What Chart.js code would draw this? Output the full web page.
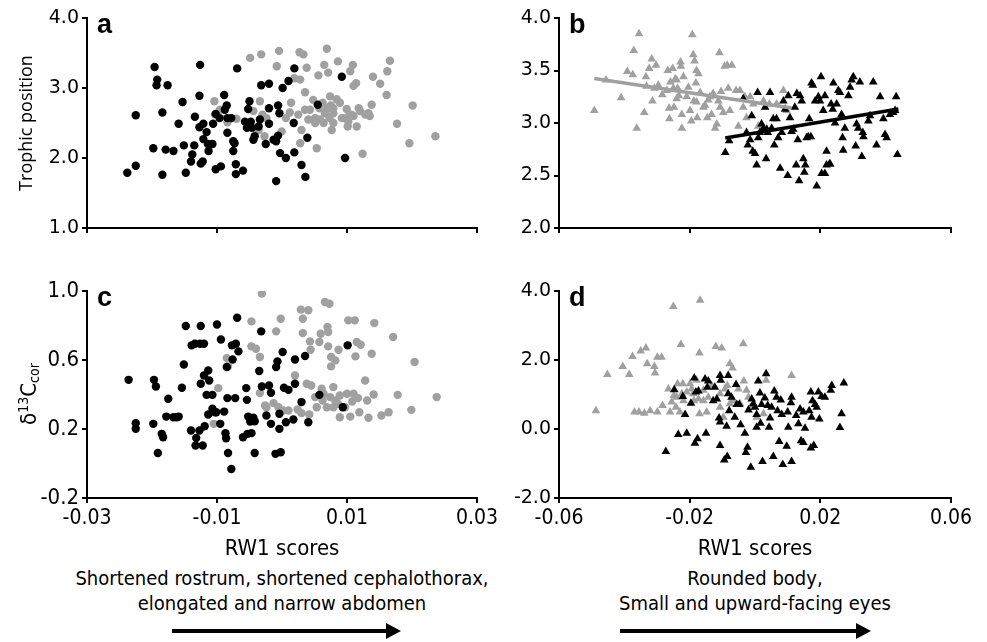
<!DOCTYPE html>
<html>
<head>
<meta charset="utf-8">
<script src="https://cdn.jsdelivr.net/npm/chart.js@4.4.0/dist/chart.umd.min.js"></script>
<style>
  body { margin: 0; background: #fff; width: 987px; height: 642px; position: relative; overflow: hidden; }
  canvas { position: absolute; }
  .txt { position: absolute; color: #000; white-space: nowrap; font-family: "Liberation Sans Narrow", "DejaVu Sans Condensed", sans-serif; }
  .desc { font-size: 20px; line-height: 25px; text-align: center; transform: translateX(-50%); }
  .ytitle { font-size: 22px; transform: translate(-50%, -50%) rotate(-90deg); }
  .ytitle sup { font-size: 14px; vertical-align: 8px; }
  .ytitle sub { font-size: 14px; vertical-align: -3px; }
</style>
</head>
<body>
<canvas id="chartA" width="490" height="260" style="left:0;top:0"></canvas>
<canvas id="chartB" width="497" height="260" style="left:490px;top:0"></canvas>
<canvas id="chartC" width="520" height="305" style="left:0;top:260px"></canvas>
<canvas id="chartD" width="507" height="305" style="left:480px;top:260px"></canvas>

<div class="txt ytitle" style="left:28px;top:394px">δ<sup>13</sup>C<sub>cor</sub></div>
<div class="txt desc" style="left:282px;top:566px">Shortened rostrum, shortened cephalothorax,<br>elongated and narrow abdomen</div>
<div class="txt desc" style="left:755px;top:566px">Rounded body,<br>Small and upward-facing eyes</div>
<svg width="987" height="642" style="position:absolute;left:0;top:0">
  <line x1="172" y1="631" x2="388" y2="631" stroke="#000" stroke-width="4"/>
  <polygon points="386,623 401,631 386,639" fill="#000"/>
  <line x1="620" y1="631" x2="858" y2="631" stroke="#000" stroke-width="4"/>
  <polygon points="856,623 871,631 856,639" fill="#000"/>
</svg>

<script>
// panel a : trophic position vs RW1 (circles)
const aBlackX = [-0.0238,-0.0225,-0.0225,-0.0198,-0.0196,-0.0192,-0.0193,-0.0176,-0.0184,-0.0184,
  -0.0179,-0.0167,-0.0159,-0.0153,-0.0151,-0.0148,-0.0140,-0.0138,-0.0135,-0.0134,
  -0.0127,-0.0126,-0.0127,-0.0125,-0.0122,-0.0121,-0.0121,-0.0116,-0.0114,-0.0113,
  -0.0107,-0.0106,-0.0102,-0.0102,-0.0096,-0.0094,-0.0089,-0.0088,-0.0085,-0.0084,
  -0.0084,-0.0078,-0.0075,-0.0075,-0.0073,-0.0071,-0.0071,-0.0069,-0.0060,-0.0057,
  -0.0054,-0.0052,-0.0050,-0.0048,-0.0046,-0.0044,-0.0042,-0.0036,-0.0034,-0.0032,
  -0.0025,-0.0020,-0.0020,-0.0020,-0.0013,-0.0009,-0.0009,-0.0006,-0.0006,-0.0004,
  -0.0003,0.0001,0.0006,0.0010,0.0018,0.0019,0.0019,0.0030,0.0036,0.0039,
  0.0055,0.0092,0.0097];
const aBlackY = [1.79,1.89,2.61,2.14,3.30,3.12,3.04,3.04,1.76,2.65,
  2.12,2.10,2.49,2.80,2.18,1.79,1.95,2.05,2.18,2.59,
  2.89,3.33,2.44,1.92,1.95,2.49,2.27,2.37,2.20,2.10,
  2.20,2.49,1.84,2.63,2.57,1.88,2.90,2.69,2.75,2.57,
  2.36,2.57,2.24,2.10,2.21,1.91,1.77,3.28,1.82,2.52,
  2.43,2.70,2.81,2.52,2.43,2.26,2.31,2.45,2.55,3.04,
  2.20,3.06,2.71,2.49,2.26,2.24,1.67,2.32,2.75,2.64,
  2.07,3.00,2.00,3.10,2.50,3.28,2.08,1.90,1.73,2.29,
  2.76,3.16,2.00];
const aGrayX = [-0.0104,-0.0103,-0.00955,-0.0084,-0.0070,-0.0049,-0.0032,-0.0044,-0.0034,-0.0030,
  -0.0036,-0.0024,-0.0027,-0.0008,-0.00045,-0.00005,0.0006,0.0012,0.0014,0.0019,
  0.0027,0.0028,0.0030,0.0033,0.00355,0.0038,0.00405,0.0028,0.00535,0.0056,
  0.00575,0.00625,0.0065,0.0069,0.0071,0.0074,0.0075,0.00765,0.0079,0.0084,
  0.0086,0.0089,0.0092,0.00995,0.0101,0.0105,0.0109,0.0110,0.0114,0.0115,
  0.0118,0.0124,0.0133,0.0138,0.0140,0.0151,0.0161,0.0162,0.0166,0.0177,
  0.0196,0.0201,0.0236,0.0043,0.0051,0.00585,0.0066,0.0073,0.0079,0.00945,
  0.0104,0.0107,0.0120,0.0128,0.0135,0.0070,0.0064,0.0051,0.0079,0.0048,
  0.00355,0.0025,0.0102,0.0110];
const aGrayY = [2.81,2.62,2.69,2.51,2.56,3.43,3.48,2.67,2.81,2.62,
  2.40,2.57,2.31,3.31,3.53,2.38,2.57,2.65,2.79,3.14,
  3.51,3.12,2.40,3.48,2.94,3.29,2.55,2.21,2.14,3.18,
  2.71,2.79,3.33,3.56,3.22,2.88,2.75,2.40,2.64,2.84,
  3.38,2.79,2.57,2.70,2.45,3.24,3.33,3.03,3.07,2.45,
  2.71,2.06,2.64,2.76,3.16,3.06,2.90,3.24,3.39,2.49,
  2.21,2.75,2.31,2.69,2.57,2.55,2.64,2.57,2.71,2.57,
  2.62,2.62,2.67,2.62,2.60,2.71,2.50,2.50,2.50,2.83,
  2.69,2.62,2.52,2.60];

// panel b : trophic position vs RW1 (triangles) with fitted lines
const bBlackX = [-0.0091,-0.0079,-0.0036,-0.0022,-0.0015,-0.0010,-0.0007,0.0000,0.0005,0.0008,
  0.0010,0.0020,0.0026,0.0031,0.0034,0.0039,0.0046,0.0051,0.0056,0.0059,
  0.0066,0.0071,0.0077,0.0082,0.0087,0.0092,0.0100,0.0102,0.0107,0.0112,
  0.0117,0.0122,0.0126,0.0128,0.0131,0.0135,0.0138,0.0143,0.0148,0.0151,
  0.0154,0.0158,0.0163,0.0166,0.0171,0.0173,0.0177,0.0184,0.0189,0.0194,
  0.0199,0.0202,0.0204,0.0209,0.0214,0.0219,0.0219,0.0228,0.0233,0.0238,
  0.0240,0.0245,0.0250,0.0255,0.0260,0.0265,0.0268,0.0270,0.0275,0.0286,
  0.0291,0.0296,0.0301,0.0308,0.0311,0.0316,0.0321,0.0327,0.0330,0.0332,
  0.0347,0.0352,0.0362,0.0372,0.0383,0.0393,0.0398,0.0403,0.0413,0.0423,
  0.0429,0.0432,0.0436,0.0214,0.0230,-0.0026,0.0015,0.0036];
const bBlackY = [2.72,2.83,3.23,2.79,2.84,3.07,2.73,2.71,2.60,3.29,
  2.86,2.99,2.95,3.15,2.66,2.91,3.29,2.95,3.04,2.79,
  3.04,2.86,2.57,2.91,3.21,3.13,2.50,3.26,3.05,2.92,
  2.94,3.15,2.60,3.28,2.84,2.45,3.26,3.21,2.66,2.53,
  2.60,2.86,2.87,3.04,2.87,3.38,3.36,3.21,2.40,3.25,
  3.21,3.44,2.52,3.12,3.26,2.73,2.60,2.61,3.18,3.13,
  3.38,3.00,3.18,3.31,3.29,3.08,2.86,2.74,2.95,3.26,
  3.34,3.41,3.44,2.78,2.99,2.95,3.39,2.68,2.91,2.87,
  3.02,3.07,3.39,2.79,3.25,3.04,2.89,2.86,3.08,3.10,
  3.12,3.25,2.70,2.52,2.61,2.91,2.91,2.94];
const bGrayX = [-0.0492,-0.0456,-0.0410,-0.0391,-0.0374,-0.0371,-0.0362,-0.0355,-0.0339,-0.0334,
  -0.0324,-0.0316,-0.0314,-0.0308,-0.0303,-0.0298,-0.0284,-0.0267,-0.0263,-0.0262,
  -0.0259,-0.0252,-0.0248,-0.0244,-0.0240,-0.0237,-0.0233,-0.0228,-0.0224,-0.0227,
  -0.0224,-0.0204,-0.0199,-0.0195,-0.0192,-0.0189,-0.0187,-0.0185,-0.0181,-0.0179,
  -0.0177,-0.0173,-0.0168,-0.0158,-0.0153,-0.0146,-0.0138,-0.0133,-0.0128,-0.0122,
  -0.0117,-0.0109,-0.0107,-0.0104,-0.0097,-0.0093,-0.0085,-0.0082,-0.0077,-0.0071,
  -0.0058,-0.0051,-0.0046,-0.0036,-0.0031,-0.0026,-0.0015,-0.0005,0.0010,0.0026,
  0.0044,0.0066,0.0087,0.0097,-0.0250,-0.0209,-0.0179,-0.0143,-0.0112,-0.0270,
  -0.0296,-0.0332,-0.0219,-0.0240];
const bGrayY = [3.12,3.41,3.24,3.49,3.46,3.69,2.95,3.85,3.10,3.44,
  3.52,3.61,3.21,3.33,3.55,3.34,3.27,3.50,3.14,3.04,
  3.39,3.52,3.15,3.42,3.41,3.33,3.26,3.58,2.95,3.54,
  3.08,3.34,3.12,3.02,3.84,3.65,3.21,3.59,3.38,3.50,
  3.05,3.47,3.29,3.15,3.17,3.05,3.25,3.08,3.28,2.95,
  2.99,3.67,3.15,3.30,3.10,3.54,3.55,3.33,3.12,3.55,
  3.31,2.97,3.31,3.15,3.25,3.05,3.25,3.18,2.97,3.21,
  3.18,3.18,3.31,3.12,3.33,3.25,3.20,3.22,3.21,3.31,
  3.36,3.35,3.44,3.23];
const bGrayLineX = [-0.0492, 0.0112];
const bGrayLineY = [3.424, 3.142];
const bBlackLineX = [-0.0091, 0.0439];
const bBlackLineY = [2.858, 3.133];

// panel c : d13C vs RW1 (circles)
const cBlackX = [-0.0236,-0.0225,-0.0225,-0.0198,-0.0197,-0.0194,-0.0191,-0.0185,-0.0183,-0.0178,
  -0.0175,-0.0167,-0.0162,-0.0159,-0.0154,-0.0151,-0.0148,-0.0140,-0.0139,-0.0134,
  -0.0133,-0.0132,-0.0127,-0.0126,-0.0125,-0.0125,-0.0122,-0.0120,-0.0120,-0.0119,
  -0.0116,-0.01135,-0.01135,-0.0112,-0.0107,-0.0107,-0.0103,-0.0101,-0.0100,-0.0095,
  -0.0094,-0.0089,-0.0087,-0.0086,-0.0085,-0.0084,-0.0083,-0.0078,-0.0077,-0.0076,
  -0.0072,-0.0071,-0.0069,-0.0067,-0.0060,-0.0055,-0.0054,-0.0053,-0.0052,-0.0049,
  -0.0047,-0.0044,-0.0042,-0.0042,-0.0035,-0.0032,-0.0031,-0.0024,-0.0020,-0.0017,
  -0.0017,-0.0010,-0.0009,-0.0007,-0.0004,-0.0004,-0.0002,0.0001,0.0003,0.0006,
  0.0010,0.00175,0.0020,0.0020,0.0030,0.00355,0.00405,0.00575,0.00935,0.0101];
const cBlackY = [0.485,0.234,0.201,0.230,0.485,0.446,0.061,0.172,0.152,0.272,
  0.375,0.268,0.268,0.272,0.439,0.574,0.797,0.191,0.685,0.694,
  0.104,0.148,0.191,0.694,0.797,0.462,0.104,0.510,0.694,0.216,
  0.398,0.539,0.284,0.481,0.398,0.317,0.297,0.297,0.806,0.230,
  0.719,0.301,0.176,0.146,0.559,0.379,0.061,-0.032,0.685,0.603,
  0.379,0.694,0.845,0.650,0.152,0.437,0.369,0.172,0.272,0.243,
  0.176,0.265,0.245,0.061,0.536,0.766,0.446,0.278,0.452,0.410,
  0.230,0.056,0.559,0.592,0.201,0.288,0.065,0.646,0.439,0.239,
  0.427,0.255,0.603,0.462,0.356,0.623,0.239,0.398,0.326,0.685];
const cGrayX = [-0.0098,-0.0105,-0.0085,-0.0083,-0.0047,-0.0047,-0.0040,-0.0034,-0.0031,-0.0034,
  -0.0026,-0.0024,-0.0013,-0.0009,-0.0002,-0.00055,0.0002,0.0010,0.0020,0.0024,
  0.0029,0.0030,0.0032,0.0032,0.0038,0.00405,0.0042,0.0043,0.0044,0.0045,
  0.0051,0.00535,0.00575,0.00595,0.0061,0.00625,0.0066,0.0073,0.0070,0.0071,
  0.0071,0.00755,0.00755,0.0082,0.0087,0.0079,0.0089,0.0089,0.0074,0.0082,
  0.0086,0.0102,0.0112,0.0105,0.0108,0.0110,0.0113,0.0115,0.0117,0.0121,
  0.0119,0.0128,0.0131,0.0133,0.0138,0.0141,0.0142,0.0153,0.0164,0.0171,
  0.0178,0.0199,0.0204,0.0238,0.0100,0.0097,0.0069,0.0064,0.0079];
const cGrayY = [0.437,0.230,0.611,0.563,0.824,0.679,0.665,0.617,0.985,0.408,
  0.336,0.326,0.350,0.766,0.839,0.326,0.307,0.307,0.510,0.313,
  0.892,0.292,0.839,0.756,0.462,0.888,0.284,0.708,0.659,0.452,
  0.385,0.326,0.704,0.752,0.433,0.365,0.936,0.926,0.791,0.762,
  0.679,0.563,0.617,0.598,0.659,0.443,0.394,0.268,0.385,0.365,
  0.346,0.830,0.830,0.272,0.359,0.404,0.621,0.704,0.379,0.688,
  0.297,0.481,0.365,0.265,0.636,0.400,0.814,0.278,0.297,0.733,
  0.398,0.311,0.588,0.385,0.404,0.326,0.326,0.404,0.326];

// panel d : d13C vs RW1 (triangles)
const dBlackX = [-0.0273,-0.0247,-0.0235,-0.0221,-0.0214,-0.0209,-0.0196,-0.0186,-0.0184,-0.0181,
  -0.0176,-0.0173,-0.0153,-0.0150,-0.0146,-0.0143,-0.0128,-0.0123,-0.0117,-0.0110,
  -0.0107,-0.0107,-0.0107,-0.0105,-0.0094,-0.0087,-0.0085,-0.0082,-0.0082,-0.0079,
  -0.0072,-0.0062,-0.0058,-0.0056,-0.0048,-0.0044,-0.0031,-0.0028,-0.0023,-0.0020,
  -0.0013,-0.0010,-0.0005,0.0000,0.0005,0.0005,0.0010,0.0015,0.0017,0.0020,
  0.0023,0.0030,0.0034,0.0039,0.0043,0.0046,0.0051,0.0056,0.0059,0.0066,
  0.0069,0.0074,0.0079,0.0082,0.0085,0.0097,0.0100,0.0102,0.0110,0.0112,
  0.0112,0.0126,0.0133,0.0138,0.0141,0.0148,0.0148,0.0153,0.0166,0.0171,
  0.0171,0.0173,0.0176,0.0180,0.0184,0.0189,0.0194,0.0197,0.0204,0.0214,
  0.0232,0.0235,0.0260,0.0265,0.0272];
const dBlackY = [-0.65,1.14,-0.16,0.94,0.42,-0.12,0.75,1.48,-0.41,1.07,
  -0.28,1.10,1.45,-0.12,1.21,1.39,0.82,1.21,0.87,0.32,
  0.20,-0.48,1.55,1.41,-0.90,0.08,-0.80,1.55,1.02,0.53,
  0.92,0.34,1.29,0.71,0.71,0.12,-0.12,-0.68,-0.53,0.55,
  -1.11,0.87,0.73,0.63,0.42,0.05,1.39,1.04,0.17,0.71,
  -0.94,0.90,1.60,0.68,0.05,0.32,0.63,-0.80,1.10,0.92,
  0.53,-0.36,0.84,0.42,-1.03,-0.50,0.49,0.05,0.76,0.92,
  -0.94,0.39,0.15,0.58,-0.34,-0.39,0.49,0.02,0.53,1.07,
  -0.55,0.34,0.82,-0.48,0.71,0.63,1.07,0.29,0.94,0.92,
  1.12,1.26,0.04,0.44,1.33];
const dGrayX = [-0.0487,-0.0452,-0.0405,-0.0385,-0.0375,-0.0369,-0.0355,-0.0350,-0.0339,-0.0334,
  -0.0330,-0.0321,-0.0308,-0.0306,-0.0299,-0.0286,-0.0299,-0.0283,-0.0265,-0.0260,
  -0.0255,-0.0250,-0.0248,-0.0242,-0.0237,-0.0230,-0.0227,-0.0221,-0.0219,-0.0209,
  -0.0199,-0.0194,-0.0187,-0.0179,-0.0173,-0.0170,-0.0170,-0.0168,-0.0158,-0.0148,
  -0.0143,-0.0133,-0.0120,-0.0102,-0.0107,-0.0097,-0.0092,-0.0085,-0.0077,-0.0069,
  -0.0066,-0.0051,-0.0036,-0.0034,-0.0026,-0.0020,-0.0015,0.0005,0.0026,0.0034,
  0.0112,-0.0240,-0.0224,-0.0189,-0.0158,-0.0107,-0.0077,-0.0046];
const dGrayY = [0.53,1.58,1.81,1.58,2.10,0.49,0.49,2.26,0.46,2.35,
  1.89,0.53,1.81,1.62,2.08,2.08,0.49,0.68,1.16,0.49,
  0.78,3.55,0.97,0.63,1.31,0.49,2.45,1.31,0.82,1.07,
  1.31,1.16,0.82,1.41,0.87,0.44,2.20,3.73,0.82,0.49,
  0.92,1.26,2.39,2.35,0.63,0.34,1.16,1.26,1.89,1.77,
  0.82,1.16,2.47,1.39,1.12,0.92,0.63,0.34,0.44,1.41,
  1.55,0.92,1.02,1.02,1.12,1.02,0.73,0.73];

// axis ticks
const abXTicks = [-0.03, -0.01, 0.01, 0.03];
const bdXTicks = [-0.06, -0.02, 0.02, 0.06];
const aYTicks = [1.0, 2.0, 3.0, 4.0];
const bYTicks = [2.0, 2.5, 3.0, 3.5, 4.0];
const cYTicks = [-0.2, 0.2, 0.6, 1.0];
const dYTicks = [-2.0, 0.0, 2.0, 4.0];

const BLACK = '#000000';
const GRAY = '#a0a0a0';
const narrow = '"Liberation Sans Narrow", "DejaVu Sans Condensed", sans-serif';
const wide = '"DejaVu Sans", Verdana, sans-serif';

function pts(xs, ys) {
  return xs.map((x, i) => ({ x: x, y: ys[i] }));
}

Chart.defaults.color = '#000';
Chart.defaults.animation = false;

const panelLetter = {
  id: 'panelLetter',
  afterDraw(chart, args, opts) {
    const ctx = chart.ctx;
    const area = chart.chartArea;
    ctx.save();
    ctx.font = 'bold 27px "Liberation Sans", Arial, sans-serif';
    ctx.fillStyle = '#000';
    ctx.textBaseline = 'alphabetic';
    ctx.fillText(opts.text, area.left + 10, area.top + 15);
    ctx.restore();
  }
};
Chart.register(panelLetter);

function dotSet(xs, ys, color, style) {
  return {
    data: pts(xs, ys),
    backgroundColor: color,
    borderWidth: 0,
    pointStyle: style,
    pointRadius: style === 'triangle' ? 5 : 4.2
  };
}

function lineSet(xs, ys, color) {
  return {
    type: 'line',
    data: pts(xs, ys),
    borderColor: color,
    borderWidth: 3.5,
    pointRadius: 0,
    fill: false
  };
}

function makeChart(id, cfg) {
  const fixTicks = arr => s => { s.ticks = arr.map(v => ({ value: v })); };
  new Chart(document.getElementById(id), {
    type: 'scatter',
    data: { datasets: cfg.datasets },
    options: {
      responsive: false,
      events: [],
      layout: { padding: cfg.padding },
      plugins: {
        legend: { display: false },
        tooltip: { enabled: false },
        panelLetter: { text: cfg.letter }
      },
      scales: {
        x: {
          type: 'linear',
          min: cfg.xTicks[0],
          max: cfg.xTicks[cfg.xTicks.length - 1],
          afterBuildTicks: fixTicks(cfg.xTicks),
          afterFit: s => { s.height = cfg.xHeight; },
          border: { color: '#000', width: 2 },
          grid: { drawOnChartArea: false, drawTicks: true, tickLength: 5, color: '#000', lineWidth: 2 },
          ticks: {
            display: cfg.xLabels,
            padding: 3,
            maxRotation: 0,
            font: { family: narrow, size: 21 },
            callback: v => v.toFixed(2)
          },
          title: {
            display: cfg.xLabels,
            text: 'RW1 scores',
            font: { family: narrow, size: 22 },
            padding: { top: 0, bottom: 3 }
          }
        },
        y: {
          type: 'linear',
          min: cfg.yTicks[0],
          max: cfg.yTicks[cfg.yTicks.length - 1],
          afterBuildTicks: fixTicks(cfg.yTicks),
          afterFit: s => { s.width = cfg.yWidth; },
          border: { color: '#000', width: 2 },
          grid: { drawOnChartArea: false, drawTicks: true, tickLength: 5, color: '#000', lineWidth: 2 },
          ticks: {
            padding: 3,
            font: { family: cfg.yFont, size: cfg.yFontSize },
            callback: v => v.toFixed(1)
          },
          title: {
            display: !!cfg.yTitle,
            text: cfg.yTitle || '',
            font: { family: '"Open Sans", sans-serif', size: 18 },
            padding: { top: 16, bottom: 0 }
          }
        }
      }
    }
  });
}

makeChart('chartA', {
  letter: 'a',
  padding: { top: 18, right: 13, left: 0, bottom: 0 },
  xHeight: 32, yWidth: 87,
  xTicks: abXTicks, yTicks: aYTicks, xLabels: false,
  yFont: wide, yFontSize: 19,
  yTitle: 'Trophic position',
  datasets: [
    dotSet(aBlackX, aBlackY, BLACK, 'circle'),
    dotSet(aGrayX, aGrayY, GRAY, 'circle')
  ]
});

makeChart('chartB', {
  letter: 'b',
  padding: { top: 18, right: 36, left: 0, bottom: 0 },
  xHeight: 32, yWidth: 69,
  xTicks: bdXTicks, yTicks: bYTicks, xLabels: false,
  yFont: wide, yFontSize: 19,
  datasets: [
    lineSet(bBlackLineX, bBlackLineY, BLACK),
    lineSet(bGrayLineX, bGrayLineY, GRAY),
    dotSet(bBlackX, bBlackY, BLACK, 'triangle'),
    dotSet(bGrayX, bGrayY, GRAY, 'triangle')
  ]
});

makeChart('chartC', {
  letter: 'c',
  padding: { top: 31, right: 43, left: 0, bottom: 0 },
  xHeight: 67, yWidth: 87,
  xTicks: abXTicks, yTicks: cYTicks, xLabels: true,
  yFont: narrow, yFontSize: 22,
  datasets: [
    dotSet(cBlackX, cBlackY, BLACK, 'circle'),
    dotSet(cGrayX, cGrayY, GRAY, 'circle')
  ]
});

makeChart('chartD', {
  letter: 'd',
  padding: { top: 31, right: 36, left: 0, bottom: 0 },
  xHeight: 67, yWidth: 79,
  xTicks: bdXTicks, yTicks: dYTicks, xLabels: true,
  yFont: wide, yFontSize: 19,
  datasets: [
    dotSet(dBlackX, dBlackY, BLACK, 'triangle'),
    dotSet(dGrayX, dGrayY, GRAY, 'triangle')
  ]
});
</script>
</body>
</html>
